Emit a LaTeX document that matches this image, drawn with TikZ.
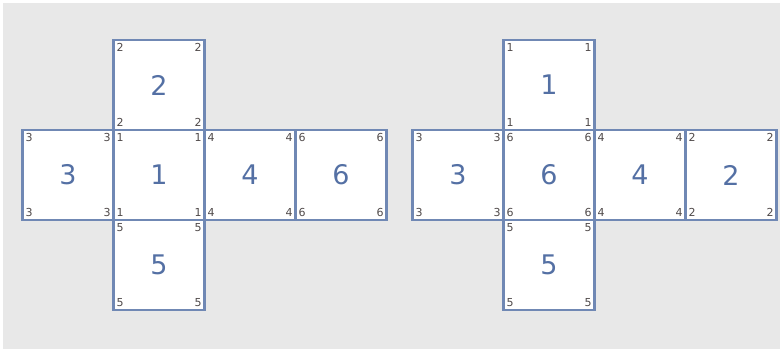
\documentclass[tikz,border=0pt]{standalone}
\usepackage{fontspec}
\setsansfont{DejaVu Sans}
\usetikzlibrary{positioning}
\definecolor{edge}{RGB}{112,136,180}
\definecolor{facenum}{RGB}{84,112,164}
\definecolor{cornernum}{RGB}{80,74,74}
\definecolor{bg}{RGB}{232,232,232}
\tikzset{
  face/.style={draw=edge,fill=white,line width=2.6pt,minimum width=91pt,minimum height=90pt,
    inner sep=0pt,outer sep=0pt,text=facenum,font=\sffamily\fontsize{27}{27}\selectfont},
  cnum/.style={inner sep=2.8pt,text=cornernum,font=\sffamily\fontsize{11}{11}\selectfont}
}
\newcommand{\netface}[4]{%
  \node[face] (#1) at (#2,#3) {#4};
  \foreach \cn/\ct in {north west/nw,north east/ne,south west/sw,south east/se}
    {\node[cnum,anchor=\cn] (#1\ct) at (#1.\cn) {#4};}
}

\begin{document}
\begin{tikzpicture}[x=1pt,y=-1pt]
  \fill[white] (0,0) rectangle (783,352);
  \fill[bg] (3,3) rectangle (780,349);
  % left net
  \netface{la}{159}{85}{2}
  \netface{lb}{68}{175}{3}
  \netface{lc}{159}{175}{1}
  \netface{ld}{250}{175}{4}
  \netface{le}{341}{175}{6}
  \netface{lf}{159}{265}{5}
  % right net
  \netface{ra}{549}{85}{1}
  \netface{rb}{458}{175}{3}
  \netface{rc}{549}{175}{6}
  \netface{rd}{640}{175}{4}
  \netface{re}{731}{175}{2}
  \netface{rf}{549}{265}{5}
\end{tikzpicture}
\end{document}
